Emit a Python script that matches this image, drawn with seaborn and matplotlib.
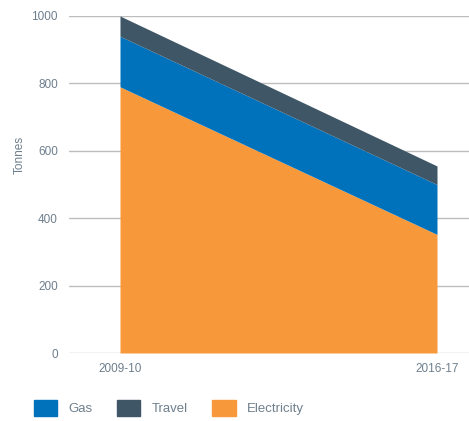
import matplotlib
matplotlib.use("Agg")
import matplotlib.pyplot as plt
import seaborn as sns
from matplotlib.patches import Patch

years = ["2009-10", "2016-17"]
electricity = [790, 352]
gas = [150, 148]
travel = [60, 55]
yticks = [0, 200, 400, 600, 800, 1000]

c_elec = "#F7993A"
c_gas = "#0072BC"
c_travel = "#3F5666"
text_c = "#6E7F8D"
grid_c = "#BDBDBD"

sns.set_theme(style="white")
plt.rcParams["font.family"] = ["Liberation Sans", "DejaVu Sans"]

fig = plt.figure(figsize=(4.69, 4.21), dpi=100)
ax = fig.add_axes([69 / 469, 1 - 353 / 421, 1 - 69 / 469, (353 - 16) / 421])

x = list(range(len(years)))
ax.stackplot(x, electricity, gas, travel, colors=[c_elec, c_gas, c_travel],
             linewidth=0, zorder=3)

ax.set_ylim(0, 1000)
ax.set_xlim(-51 / 317, 1 + 32 / 317)
ax.set_yticks(yticks)
ax.set_xticks(x)
ax.set_xticklabels(years)
ax.yaxis.grid(True, color=grid_c, linewidth=1.0, zorder=1)
ax.xaxis.grid(False)
for s in ax.spines.values():
    s.set_visible(False)
ax.tick_params(axis="y", length=0, pad=8, labelsize=8.5, labelcolor=text_c)
ax.tick_params(axis="x", length=0, pad=7, labelsize=8.5, labelcolor=text_c)
ax.set_ylabel("Tonnes", fontsize=8.5, color=text_c)
ax.yaxis.set_label_coords(-(52 - 9) / 400, (353 - 155) / 337)

handles = [Patch(color=c_gas), Patch(color=c_travel), Patch(color=c_elec)]
labels = ["Gas", "Travel", "Electricity"]
fig.legend(handles, labels, loc="center left", bbox_to_anchor=(34 / 469, 1 - 408 / 421),
           ncol=3, frameon=False, fontsize=9.5, handlelength=1.75, handleheight=1.44,
           handletextpad=0.83, columnspacing=1.9, borderpad=0, borderaxespad=0,
           labelcolor=text_c)

fig.savefig("out.png", dpi=100)
